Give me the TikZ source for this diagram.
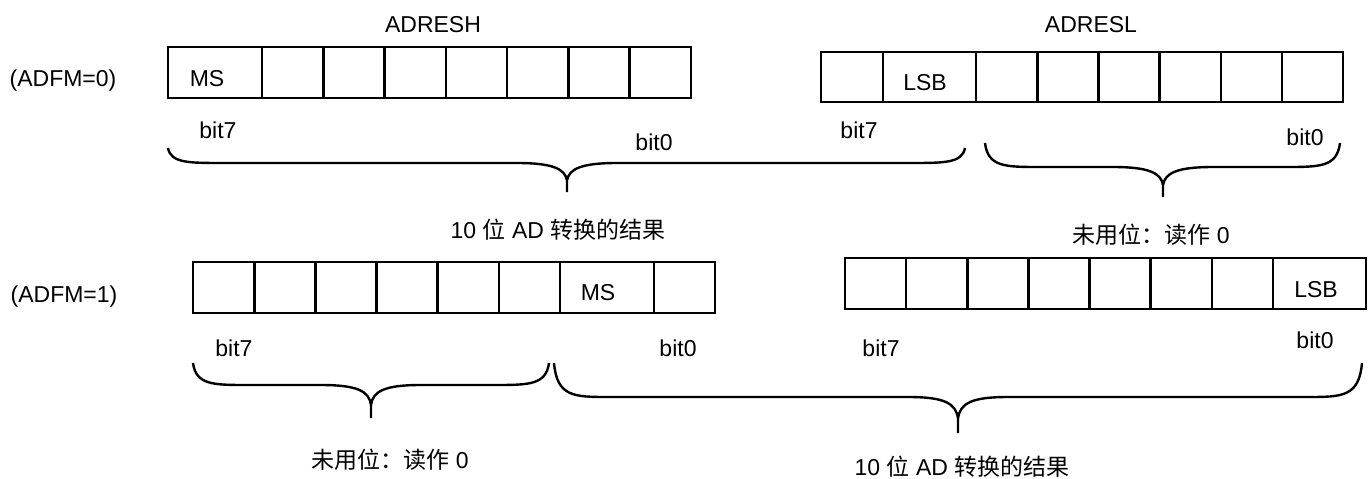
\documentclass[tikz,border=0pt]{standalone}
\usepackage{fontspec}
\setmainfont{Liberation Sans}
\newfontfamily\cjk{Noto Sans CJK SC}
\newcommand\mybrace[6]{% #1 xl, #2 xr, #3 yt, #4 yh, #5 xm, #6 ytip
  \draw[brc] (#1,#3) .. controls (#1+3,#4) and (#1+20,#4) .. (#1+55,#4) -- (#5-50,#4)
    .. controls (#5-14,#4) and (#5-2,#4+6) .. (#5,{#4+0.6*(#6-#4)}) -- (#5,#6)
    (#5,{#4+0.6*(#6-#4)}) .. controls (#5+2,#4+6) and (#5+14,#4) .. (#5+50,#4)
    -- (#2-55,#4) .. controls (#2-20,#4) and (#2-3,#4) .. (#2,#3);}
\begin{document}
\begin{tikzpicture}[x=1pt,y=-1pt,
  reg/.style={line width=2.6pt},
  brc/.style={line width=2.4pt},
  lbl/.style={inner sep=0pt, font=\fontsize{23}{27}\selectfont}]
\useasboundingbox (0,0) rectangle (1368,479);
% ---- registers, ADFM=0
\draw[reg] (168,47) rectangle (691,98);
\foreach \x in {262,323.3,384.6,445.9,507.1,568.4,629.7} \draw[reg] (\x,47) -- (\x,98);
\draw[reg] (821,52) rectangle (1343,102);
\foreach \x in {883,976,1037.2,1098.4,1159.6,1220.8,1282} \draw[reg] (\x,52) -- (\x,102);
% ---- registers, ADFM=1
\draw[reg] (193,262) rectangle (715,313);
\foreach \x in {254.2,315.3,376.5,437.7,498.8,560,654} \draw[reg] (\x,262) -- (\x,313);
\draw[reg] (845,258) rectangle (1366,309);
\foreach \x in {906.1,967.3,1028.4,1089.6,1150.7,1211.9,1273} \draw[reg] (\x,258) -- (\x,309);
% ---- labels
\node[lbl] (adfm0) at (63,81) {(ADFM=0)};
\node[lbl] (adfm1) at (64,297) {(ADFM=1)};
\node[lbl] (adresh) at (433,25) {ADRESH};
\node[lbl] (adresl) at (1091,25) {ADRESL};
\node[lbl] (ms0) at (207,79) {MS};
\node[lbl] (lsb0) at (925,83) {LSB};
\node[lbl] (ms1) at (598,293) {MS};
\node[lbl] (lsb1) at (1316,290) {LSB};
\node[lbl] (b7a) at (218,130) {bit7};
\node[lbl] (b0a) at (654,142) {bit0};
\node[lbl] (b7b) at (859,130) {bit7};
\node[lbl] (b0b) at (1305,137) {bit0};
\node[lbl] (b7c) at (234,348) {bit7};
\node[lbl] (b0c) at (678,348) {bit0};
\node[lbl] (b7d) at (881,348) {bit7};
\node[lbl] (b0d) at (1315,340) {bit0};
% ---- braces
\mybrace{168}{965}{148}{163}{567}{192}
\mybrace{985}{1340}{143}{167}{1163}{197}
\mybrace{193}{549}{363}{385}{371}{418}
\mybrace{554}{1362}{363}{397}{958}{433}
% ---- result texts
\node[lbl] (res0) at (558,230) {10 {\cjk 位} AD {\cjk 转换的结果}};
\node[lbl] (un0) at (1151,235) {{\cjk 未用位：读作} 0};
\node[lbl] (un1) at (390,460) {{\cjk 未用位：读作} 0};
\node[lbl] (res1) at (962,467) {10 {\cjk 位} AD {\cjk 转换的结果}};
\end{tikzpicture}
\end{document}
